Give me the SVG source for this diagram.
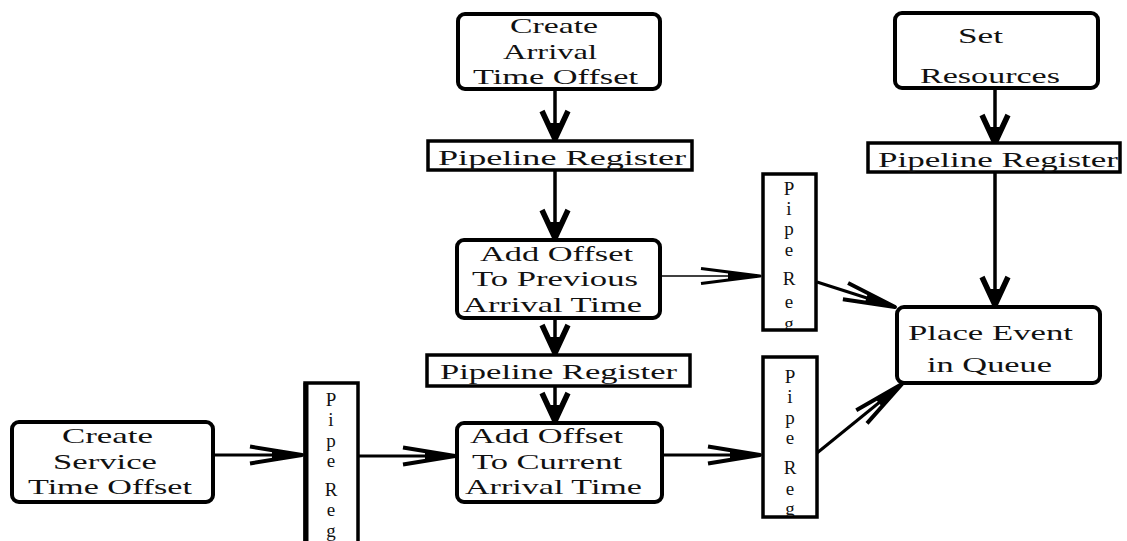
<svg xmlns="http://www.w3.org/2000/svg" width="1127" height="541" viewBox="0 0 1127 541">
  <defs>
    <style>
      .step { fill: #fff; stroke: #000; stroke-width: 4; }
      .reg { fill: #fff; stroke: #000; stroke-width: 3.5; }
      .lbl { font-family: "Liberation Serif", "Times New Roman", serif; font-size: 22px; fill: #111; }
      .vl { font-family: "Liberation Serif", "Times New Roman", serif; font-size: 19px; fill: #111; text-anchor: middle; }
      .wire { fill: none; stroke: #000; stroke-width: 3.5; }
      .thin { fill: none; stroke: #000; stroke-width: 1.6; }
    </style>
    <!-- short, wide head for vertical flows -->
    <marker id="headV" markerUnits="userSpaceOnUse" viewBox="-40 -20 45 40" markerWidth="45" markerHeight="40" refX="0" refY="0" orient="auto" overflow="visible">
      <path d="M-28,-13 L0,0 L-28,13" fill="none" stroke="#000" stroke-width="5.5" stroke-linejoin="round"/>
      <path d="M-16,-5 L0,0 L-16,5 Z" fill="#000"/>
    </marker>
    <!-- long, narrow head for horizontal and slanted flows -->
    <marker id="headH" markerUnits="userSpaceOnUse" viewBox="-60 -20 65 40" markerWidth="65" markerHeight="40" refX="0" refY="0" orient="auto" overflow="visible">
      <path d="M-52,-8.5 L0,0 L-52,8.5" fill="none" stroke="#000" stroke-width="4" stroke-linejoin="round"/>
      <path d="M-30,-4 L0,0 L-30,4 Z" fill="#000"/>
    </marker>
    <marker id="headT" markerUnits="userSpaceOnUse" viewBox="-65 -20 70 40" markerWidth="70" markerHeight="40" refX="0" refY="0" orient="auto" overflow="visible">
      <path d="M-59,-7.5 L0,0 L-59,7.5" fill="none" stroke="#000" stroke-width="3.2" stroke-linejoin="round"/>
      <path d="M-32,-3.5 L0,0 L-32,3.5 Z" fill="#000"/>
    </marker>
    <clipPath id="clipPR1"><rect x="763" y="174" width="52" height="155"/></clipPath>
    <clipPath id="clipPR2"><rect x="763" y="357" width="54" height="159"/></clipPath>
  </defs>

  <g id="connectors">
    <line class="wire" x1="555" y1="90" x2="555" y2="139" marker-end="url(#headV)"/>
    <line class="wire" x1="555" y1="170" x2="555" y2="238" marker-end="url(#headV)"/>
    <line class="wire" x1="555" y1="318" x2="555" y2="353" marker-end="url(#headV)"/>
    <line class="wire" x1="555" y1="387" x2="555" y2="421" marker-end="url(#headV)"/>
    <line class="wire" x1="995" y1="88" x2="995" y2="143" marker-end="url(#headV)"/>
    <line class="wire" x1="995" y1="172" x2="995" y2="305" marker-end="url(#headV)"/>
    <line class="thin" x1="658" y1="276" x2="760" y2="276" marker-end="url(#headT)"/>
    <line class="wire" x1="213" y1="455" x2="302" y2="455" marker-end="url(#headH)" style="stroke-width:3"/>
    <line class="wire" x1="358" y1="456" x2="455" y2="456" marker-end="url(#headH)" style="stroke-width:3"/>
    <line class="wire" x1="662" y1="455" x2="760" y2="455" marker-end="url(#headH)" style="stroke-width:3"/>
    <line class="wire" x1="817" y1="282" x2="895" y2="307" marker-end="url(#headH)" style="stroke-width:3"/>
    <line class="wire" x1="817" y1="453" x2="902" y2="384" marker-end="url(#headH)" style="stroke-width:3"/>
  </g>

  <g id="create-arrival">
    <rect class="step" x="458" y="14" width="202" height="75" rx="7"/>
    <text class="lbl" x="510" y="33" textLength="88" lengthAdjust="spacingAndGlyphs">Create</text>
    <text class="lbl" x="503" y="59" textLength="94" lengthAdjust="spacingAndGlyphs">Arrival</text>
    <text class="lbl" x="473" y="84" textLength="165" lengthAdjust="spacingAndGlyphs">Time Offset</text>
  </g>

  <g id="set-resources">
    <rect class="step" x="895" y="13" width="203" height="75" rx="7"/>
    <text class="lbl" x="958" y="43" textLength="45" lengthAdjust="spacingAndGlyphs">Set</text>
    <text class="lbl" x="920" y="83" textLength="140" lengthAdjust="spacingAndGlyphs">Resources</text>
  </g>

  <g id="pipeline-register-1">
    <rect class="reg" x="428" y="141" width="264" height="29"/>
    <text class="lbl" x="438" y="165" textLength="248" lengthAdjust="spacingAndGlyphs">Pipeline Register</text>
  </g>

  <g id="pipeline-register-2">
    <rect class="reg" x="868" y="143" width="252" height="29"/>
    <text class="lbl" x="878" y="167" textLength="240" lengthAdjust="spacingAndGlyphs">Pipeline Register</text>
  </g>

  <g id="add-previous">
    <rect class="step" x="457" y="240" width="203" height="78" rx="7"/>
    <text class="lbl" x="480" y="261" textLength="153" lengthAdjust="spacingAndGlyphs">Add Offset</text>
    <text class="lbl" x="472" y="286" textLength="166" lengthAdjust="spacingAndGlyphs">To Previous</text>
    <text class="lbl" x="463" y="312" textLength="179" lengthAdjust="spacingAndGlyphs">Arrival Time</text>
  </g>

  <g id="pipe-reg-upper">
    <rect class="reg" x="763" y="174" width="53" height="156"/>
    <g clip-path="url(#clipPR1)">
      <text class="vl" x="789" y="195">P</text>
      <text class="vl" x="789" y="215">i</text>
      <text class="vl" x="789" y="235">p</text>
      <text class="vl" x="789" y="256">e</text>
      <text class="vl" x="789" y="285">R</text>
      <text class="vl" x="789" y="308">e</text>
      <text class="vl" x="789" y="330">g</text>
    </g>
  </g>

  <g id="pipeline-register-3">
    <rect class="reg" x="427" y="355" width="263" height="31"/>
    <text class="lbl" x="440" y="379" textLength="237" lengthAdjust="spacingAndGlyphs">Pipeline Register</text>
  </g>

  <g id="place-event">
    <rect class="step" x="897" y="307" width="203" height="76" rx="7"/>
    <text class="lbl" x="908" y="340" textLength="165" lengthAdjust="spacingAndGlyphs">Place Event</text>
    <text class="lbl" x="927" y="372" textLength="125" lengthAdjust="spacingAndGlyphs">in Queue</text>
  </g>

  <g id="create-service">
    <rect class="step" x="12" y="422" width="201" height="80" rx="7"/>
    <text class="lbl" x="62" y="443" textLength="91" lengthAdjust="spacingAndGlyphs">Create</text>
    <text class="lbl" x="53" y="469" textLength="104" lengthAdjust="spacingAndGlyphs">Service</text>
    <text class="lbl" x="28" y="494" textLength="164" lengthAdjust="spacingAndGlyphs">Time Offset</text>
  </g>

  <g id="pipe-reg-left">
    <rect class="reg" x="305" y="383" width="53" height="170"/>
    <line x1="306" y1="383" x2="306" y2="541" stroke="#000" stroke-width="5"/>
    <text class="vl" x="331" y="406">P</text>
    <text class="vl" x="331" y="426">i</text>
    <text class="vl" x="331" y="447">p</text>
    <text class="vl" x="331" y="467">e</text>
    <text class="vl" x="331" y="496">R</text>
    <text class="vl" x="331" y="516">e</text>
    <text class="vl" x="331" y="537">g</text>
  </g>

  <g id="add-current">
    <rect class="step" x="457" y="423" width="205" height="79" rx="7"/>
    <text class="lbl" x="470" y="443" textLength="153" lengthAdjust="spacingAndGlyphs">Add Offset</text>
    <text class="lbl" x="472" y="469" textLength="150" lengthAdjust="spacingAndGlyphs">To Current</text>
    <text class="lbl" x="465" y="494" textLength="177" lengthAdjust="spacingAndGlyphs">Arrival Time</text>
  </g>

  <g id="pipe-reg-lower">
    <rect class="reg" x="763" y="357" width="54" height="160"/>
    <g clip-path="url(#clipPR2)">
      <text class="vl" x="790" y="383">P</text>
      <text class="vl" x="790" y="403">i</text>
      <text class="vl" x="790" y="424">p</text>
      <text class="vl" x="790" y="444">e</text>
      <text class="vl" x="790" y="474">R</text>
      <text class="vl" x="790" y="495">e</text>
      <text class="vl" x="790" y="515">g</text>
    </g>
  </g>
</svg>
